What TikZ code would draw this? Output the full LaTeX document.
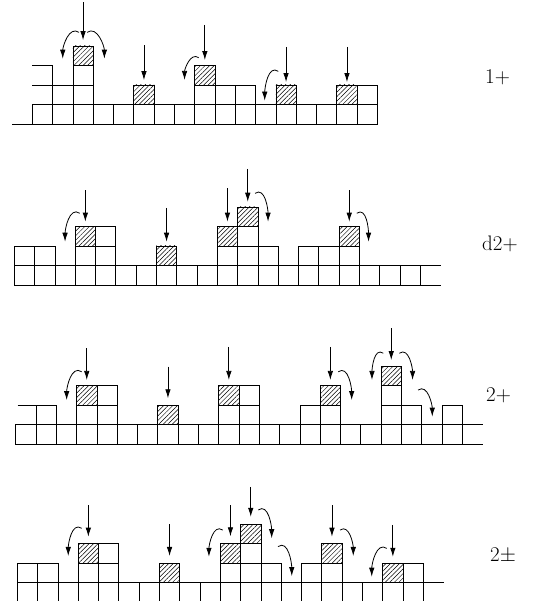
\documentclass[tikz,border=0pt]{standalone}
\usetikzlibrary{arrows.meta, patterns.meta}

\begin{document}
\begin{tikzpicture}[
	x=1pt, y=1pt,
	>={Latex[length=9pt,width=5.5pt]},
	font=\fontsize{21}{25}\selectfont,
	cell/.style={
		draw,
		line width=0.8pt
	},
	adatom/.style={
		cell,
		pattern={Lines[angle=45,distance=3.2pt,line width=0.5pt]}
	},
	drop/.style={
		->,
		line width=0.8pt
	},
	hopleft/.style={out=145, in=90},
	hopright/.style={out=35, in=90},
	panel/.style={x=20.3pt, y=19.5pt},
	tag/.style={anchor=west, inner sep=0pt}
	]

	\useasboundingbox (0,0) rectangle (534,601);

	%------------------------------------------------
	% PANEL 1+
	%------------------------------------------------

	\begin{scope}[shift={(32.3pt,477pt)}, panel]
		\foreach \c in {0,...,16} \draw[cell] (\c,0) rectangle ++(1,1);
		\draw[cell] (-1,0) -- (0,0);
		\foreach \c in {1,2,8,9,10,16} \draw[cell] (\c,1) rectangle ++(1,1);
		\foreach \c in {5,12,15} \draw[adatom] (\c,1) rectangle ++(1,1);
		\draw[cell] (2,2) rectangle ++(1,1);
		\draw[adatom] (8,2) rectangle ++(1,1);
		\draw[adatom] (2,3) rectangle ++(1,1);
		\draw[cell] (0,2) -- (1,2) (0,3) -- (1,3) -- (1,2);

		\foreach \c/\a/\b in {2/6.25/4.3, 5/4.05/2.25, 8/5.08/3.28, 12/3.95/2.15, 15/3.95/2.15}
			\draw[drop] (\c+0.5,\a) -- (\c+0.5,\b);
		\draw[drop] (2.3,4.7) to[hopleft] (1.5,3.35);
		\draw[drop] (2.7,4.7) to[hopright] (3.55,3.35);
		\draw[drop] (8.2,3.4) to[hopleft] (7.5,2.26);
		\draw[drop] (12.12,2.7) to[hopleft] (11.45,1.2);
	\end{scope}

	\node[tag] (lab1) at (485,524) {1+};

	%------------------------------------------------
	% PANEL d2+
	%------------------------------------------------

	\begin{scope}[shift={(14.3pt,316pt)}, panel]
		\foreach \c in {0,...,19} \draw[cell] (\c,0) rectangle ++(1,1);
		\draw[cell] (20,0) -- (21,0) (20,1) -- (21,1);
		\foreach \c in {0,1,3,4,10,11,12,14,15,16} \draw[cell] (\c,1) rectangle ++(1,1);
		\draw[adatom] (7,1) rectangle ++(1,1);
		\foreach \c in {4,11} \draw[cell] (\c,2) rectangle ++(1,1);
		\foreach \c in {3,10,16} \draw[adatom] (\c,2) rectangle ++(1,1);
		\draw[adatom] (11,3) rectangle ++(1,1);

		\foreach \c/\a/\b in {3/4.87/3.25, 7/3.95/2.22, 10/4.97/3.25, 11/5.95/4.27, 16/4.87/3.25}
			\draw[drop] (\c+0.5,\a) -- (\c+0.5,\b);
		\draw[drop] (3.22,3.68) to[hopleft] (2.5,2.22);
		\draw[drop] (11.86,4.7) to[hopright] (12.5,3.25);
		\draw[drop] (16.87,3.68) to[hopright] (17.45,2.22);
	\end{scope}

	\node[tag] (lab2) at (482,357) {d2+};

	%------------------------------------------------
	% PANEL 2+
	%------------------------------------------------

	\begin{scope}[shift={(15.7pt,156.7pt)}, panel]
		\foreach \c in {0,...,21} \draw[cell] (\c,0) rectangle ++(1,1);
		\draw[cell] (22,0) -- (23,0) (22,1) -- (23,1);
		\foreach \c in {1,3,4,10,11,14,15,18,19,21} \draw[cell] (\c,1) rectangle ++(1,1);
		\draw[adatom] (7,1) rectangle ++(1,1);
		\draw[cell] (0.1,2) -- (1,2);
		\foreach \c in {4,11,18} \draw[cell] (\c,2) rectangle ++(1,1);
		\foreach \c in {3,10,15} \draw[adatom] (\c,2) rectangle ++(1,1);
		\draw[adatom] (18,3) rectangle ++(1,1);

		\foreach \c/\a/\b in {3/4.92/3.3, 7/3.98/2.36, 10/5.0/3.3, 15/5.0/3.3, 18/5.95/4.32}
			\draw[drop] (\c+0.5,\a) -- (\c+0.5,\b);
		\draw[drop] (3.25,3.72) to[hopleft] (2.51,2.27);
		\draw[drop] (15.89,3.72) to[hopright] (16.55,2.27);
		\draw[drop] (18.11,4.67) to[hopleft] (17.55,3.3);
		\draw[drop] (18.9,4.67) to[hopright] (19.55,3.3);
		\draw[drop] (19.82,2.78) to[hopright] (20.52,1.42);
	\end{scope}

	\node[tag] (lab3) at (486,206) {2+};

	%------------------------------------------------
	% PANEL 2+-
	%------------------------------------------------

	\begin{scope}[shift={(17.3pt,-1.2pt)}, panel]
		\foreach \c in {0,...,19} \draw[cell] (\c,0) rectangle ++(1,1);
		\draw[cell] (20,0) -- (21,0) (20,1) -- (21,1);
		\foreach \c in {0,1,3,4,10,11,12,14,15,19} \draw[cell] (\c,1) rectangle ++(1,1);
		\foreach \c in {7,18} \draw[adatom] (\c,1) rectangle ++(1,1);
		\foreach \c in {4,11} \draw[cell] (\c,2) rectangle ++(1,1);
		\foreach \c in {3,10,15} \draw[adatom] (\c,2) rectangle ++(1,1);
		\draw[adatom] (11,3) rectangle ++(1,1);

		\foreach \c/\a/\b in {3/4.98/3.36, 7/4.01/2.37, 10/4.98/3.38, 11/5.92/4.38, 15/4.98/3.36, 18/3.96/2.33}
			\draw[drop] (\c+0.5,\a) -- (\c+0.5,\b);
		\draw[drop] (3.17,3.79) to[hopleft] (2.51,2.37);
		\draw[drop] (10.12,3.7) to[hopleft] (9.44,2.33);
		\draw[drop] (11.87,4.73) to[hopright] (12.53,3.28);
		\draw[drop] (12.84,2.85) to[hopright] (13.52,1.34);
		\draw[drop] (15.9,3.7) to[hopright] (16.55,2.37);
		\draw[drop] (18.2,2.76) to[hopleft] (17.46,1.31);
	\end{scope}

	\node[tag] (lab4) at (490,46) {2$\pm$};

\end{tikzpicture}
\end{document}
